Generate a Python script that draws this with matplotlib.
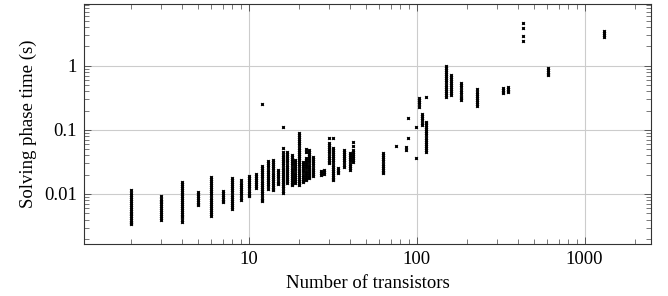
import matplotlib.pyplot as plt
from matplotlib.ticker import FixedLocator, NullFormatter

plt.rcParams['font.family'] = ['Liberation Serif', 'DejaVu Serif']

# transistor counts and measured solving times (s), one list per count
transistors = [2, 3, 4, 5, 6, 7, 8, 9, 10, 11, 12, 13, 14, 15, 16, 17, 18, 19, 20,
               21, 22, 23, 24, 27, 28, 30, 32, 34, 37, 40, 42, 63, 75, 86, 89, 99,
               104, 108, 113, 150, 160, 184, 230, 328, 348, 427, 608, 1302]

times = [
    [0.0116, 0.0104, 0.0097, 0.009, 0.0084, 0.0078, 0.0073, 0.0068, 0.0063, 0.0059,
     0.0055, 0.0051, 0.0048, 0.0045, 0.0042, 0.0039, 0.0037, 0.0035, 0.0034],
    [0.0093, 0.0084, 0.0079, 0.0074, 0.0069, 0.0064, 0.006, 0.0056, 0.0052, 0.0048,
     0.0045, 0.0042, 0.0039],
    [0.0154, 0.0144, 0.0134, 0.0125, 0.0116, 0.0108, 0.0101, 0.0094, 0.0088, 0.0082,
     0.0076, 0.0071, 0.0066, 0.0061, 0.0057, 0.0053, 0.0049, 0.0046, 0.0043, 0.004, 0.0037],
    [0.0107, 0.01, 0.0093, 0.0087, 0.0081, 0.0075, 0.007, 0.0068],
    [0.0184, 0.017, 0.0158, 0.0147, 0.0137, 0.0127, 0.0118, 0.011, 0.0102, 0.0095,
     0.0088, 0.0082, 0.0076, 0.007, 0.0065, 0.006, 0.0056, 0.0052, 0.0048, 0.0045],
    [0.0112, 0.0104, 0.0097, 0.009, 0.0084, 0.0078, 0.0075],
    [0.0178, 0.0165, 0.0153, 0.0142, 0.0132, 0.0123, 0.0114, 0.0106, 0.0098, 0.0091,
     0.0085, 0.0079, 0.0073, 0.0068, 0.0063, 0.0059],
    [0.0163, 0.0148, 0.0138, 0.0128, 0.0119, 0.011, 0.0102, 0.0095, 0.0088, 0.0082],
    [0.0191, 0.0177, 0.0164, 0.0152, 0.0141, 0.0131, 0.0122, 0.0113, 0.0105, 0.0098, 0.0093],
    [0.0206, 0.0191, 0.0177, 0.0164, 0.0152, 0.0141, 0.0131, 0.0124],
    [0.252, 0.0275, 0.0255, 0.0237, 0.022, 0.0204, 0.0189, 0.0175, 0.0162, 0.015,
     0.0139, 0.0129, 0.012, 0.0111, 0.0103, 0.0095, 0.0088, 0.0081, 0.0078],
    [0.0327, 0.0303, 0.028, 0.026, 0.0241, 0.0223, 0.0207, 0.0192, 0.0178, 0.0165,
     0.0153, 0.0142, 0.0131, 0.012],
    [0.034, 0.0315, 0.0292, 0.0271, 0.0251, 0.0233, 0.0216, 0.02, 0.0186, 0.0172,
     0.016, 0.0149, 0.0138, 0.0128, 0.0119, 0.0115],
    [0.0237, 0.022, 0.0204, 0.0189, 0.0175, 0.0162, 0.0151, 0.0145],
    [0.110, 0.0524, 0.046, 0.0407, 0.0377, 0.035, 0.0325, 0.0301, 0.0279, 0.0259,
     0.024, 0.0223, 0.0207, 0.0192, 0.0178, 0.0165, 0.0153, 0.0142, 0.0131, 0.0122,
     0.0113, 0.0104],
    [0.0453, 0.042, 0.039, 0.0361, 0.0335, 0.031, 0.0288, 0.0267, 0.0247, 0.0229,
     0.0212, 0.0197, 0.0182, 0.0169, 0.0157, 0.0149],
    [0.0407, 0.0377, 0.035, 0.0325, 0.0301, 0.0279, 0.0259, 0.024, 0.0223, 0.0207,
     0.0192, 0.0178, 0.0165, 0.0153, 0.0142, 0.0138],
    [0.034, 0.0315, 0.0292, 0.0271, 0.0251, 0.0233, 0.0216, 0.02, 0.0186, 0.0172,
     0.016, 0.0149],
    [0.0898, 0.0833, 0.0772, 0.0716, 0.0664, 0.0616, 0.0571, 0.053, 0.0491, 0.0455,
     0.0422, 0.0392, 0.0363, 0.0337, 0.0312, 0.029, 0.0269, 0.0249, 0.0231, 0.0214,
     0.0199, 0.0184, 0.0171, 0.0158, 0.0147, 0.0138],
    [0.0316, 0.0293, 0.0272, 0.0252, 0.0234, 0.0217, 0.0201, 0.0186, 0.0173, 0.016, 0.0153],
    [0.0504, 0.045, 0.0365, 0.0339, 0.0314, 0.0291, 0.027, 0.025, 0.0232, 0.0215,
     0.02, 0.0185, 0.0172, 0.0166],
    [0.0487, 0.0452, 0.0419, 0.0388, 0.036, 0.0334, 0.031, 0.0287, 0.0266, 0.0247,
     0.0229, 0.0212, 0.0197, 0.0183, 0.0178],
    [0.0377, 0.035, 0.0325, 0.0301, 0.0279, 0.0259, 0.024, 0.0223, 0.0207, 0.0193],
    [0.023, 0.0213, 0.02],
    [0.0237, 0.022, 0.0205],
    [0.0744, 0.0625, 0.058, 0.0538, 0.0499, 0.0463, 0.0429, 0.0398, 0.0369, 0.0342,
     0.0317, 0.0305],
    [0.0744, 0.0524, 0.0486, 0.0451, 0.0418, 0.0388, 0.036, 0.0334, 0.031, 0.0287,
     0.0266, 0.0247, 0.0229, 0.0212, 0.0197, 0.0183, 0.0172, 0.0166],
    [0.0255, 0.0237, 0.022, 0.0213],
    [0.0487, 0.0452, 0.0419, 0.0388, 0.036, 0.0334, 0.031, 0.0287, 0.0266],
    [0.0436, 0.0404, 0.0375, 0.0348, 0.0322, 0.0299, 0.0277, 0.0257, 0.0237],
    [0.0658, 0.0562, 0.0487, 0.0453, 0.042, 0.039, 0.0361, 0.0335, 0.0316],
    [0.0436, 0.0404, 0.0375, 0.0348, 0.0322, 0.0299, 0.0277, 0.0257, 0.0238, 0.0221, 0.0213],
    [0.0568],
    [0.054, 0.049],
    [0.154, 0.076],
    [0.109, 0.037],
    [0.316, 0.293, 0.272, 0.252, 0.229],
    [0.178, 0.165, 0.153, 0.142, 0.13, 0.12],
    [0.322, 0.133, 0.129, 0.12, 0.111, 0.103, 0.0954, 0.0884, 0.082, 0.076, 0.0705,
     0.0654, 0.0606, 0.0562, 0.0521, 0.0483, 0.0453],
    [1.0, 0.93, 0.86, 0.8, 0.74, 0.69, 0.64, 0.59, 0.55, 0.51, 0.47, 0.44, 0.41,
     0.38, 0.35, 0.33],
    [0.72, 0.67, 0.62, 0.58, 0.54, 0.5, 0.46, 0.43, 0.4, 0.37, 0.35],
    [0.54, 0.5, 0.47, 0.42, 0.39, 0.36, 0.33, 0.31, 0.294],
    [0.437, 0.392, 0.364, 0.337, 0.313, 0.29, 0.269, 0.25, 0.232],
    [0.45, 0.42, 0.39, 0.378],
    [0.47, 0.44, 0.41, 0.39],
    [4.65, 3.88, 2.94, 2.46],
    [0.93, 0.86, 0.8, 0.75, 0.72],
    [3.5, 3.25, 3.0, 2.8],
]

xs = []
ys = []
for n, ts in zip(transistors, times):
    for t in ts:
        xs.append(n)
        ys.append(t)

fig = plt.figure(figsize=(6.68, 2.96), dpi=100)
ax = fig.add_axes([0.1257, 0.1757, 0.8489, 0.8108])

ax.plot(xs, ys, linestyle='none', marker='x', color='black',
        markersize=1.9, markeredgewidth=1.0, zorder=3)

ax.set_xscale('log')
ax.set_yscale('log')
ax.set_xlim(1.047, 2484)
ax.set_ylim(0.00166, 9.2)

ax.xaxis.set_major_locator(FixedLocator([10, 100, 1000]))
ax.set_xticklabels(['10', '100', '1000'])
ax.yaxis.set_major_locator(FixedLocator([0.01, 0.1, 1]))
ax.set_yticklabels(['0.01', '0.1', '1'])
ax.xaxis.set_minor_formatter(NullFormatter())
ax.yaxis.set_minor_formatter(NullFormatter())

ax.grid(True, which='major', color='#cccccc', linewidth=0.8, zorder=0)
ax.set_axisbelow(True)
ax.tick_params(which='both', direction='in', top=True, right=True,
               color='#444444', labelsize=13.5)
ax.tick_params(which='major', length=5, width=0.6, pad=5)
ax.tick_params(which='minor', length=3.5, width=0.5)
for s in ax.spines.values():
    s.set_color('#333333')
    s.set_linewidth(0.8)

ax.set_xlabel('Number of transistors', fontsize=13.5, labelpad=5)
ax.set_ylabel('Solving phase time (s)', fontsize=13.5, labelpad=5)

plt.savefig('out.png', dpi=100)
